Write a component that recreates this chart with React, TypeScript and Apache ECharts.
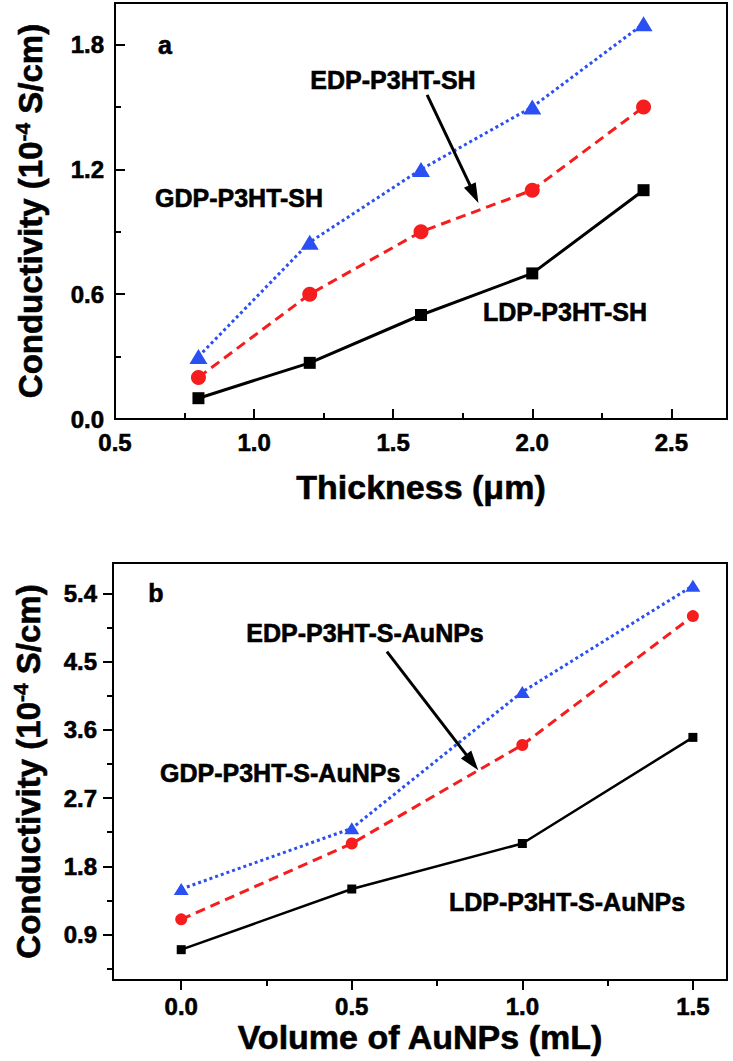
import React, { useEffect, useRef } from "react";
import * as echarts from "echarts";

// Panel a data
const thicknessA = [0.8, 1.2, 1.6, 2.0, 2.4];
const ldpA = [0.1, 0.27, 0.5, 0.7, 1.1];
const edpA = [0.2, 0.6, 0.9, 1.1, 1.5];
const gdpA = [0.3, 0.85, 1.2, 1.5, 1.9];

// Panel b data
const volumeB = [0, 0.5, 1.0, 1.5];
const ldpB = [0.7, 1.5, 2.1, 3.5];
const edpB = [1.1, 2.1, 3.4, 5.1];
const gdpB = [1.5, 2.3, 4.1, 5.5];

// Tick values
const xTicksA = [0.5, 1.0, 1.5, 2.0, 2.5];
const xMinorA = [0.75, 1.25, 1.75, 2.25];
const yTicksA = [0, 0.6, 1.2, 1.8];
const yMinorA = [0.3, 0.9, 1.5];
const xTicksB = [0, 0.5, 1.0, 1.5];
const xMinorB = [0.25, 0.75, 1.25];
const yTicksB = [0.9, 1.8, 2.7, 3.6, 4.5, 5.4];
const yMinorB = [0.45, 1.35, 2.25, 3.15, 4.05, 4.95];

const FONT = "'Liberation Sans', Arial, sans-serif";
const BLUE = "#2a4ff2";
const RED = "#f51d1d";

const pair = (xs: number[], ys: number[]) => xs.map((x, i) => [x, ys[i]]);

const labelStyle = (margin: number, values: number[]) => ({
  show: true,
  customValues: values,
  formatter: (v: number) => v.toFixed(1),
  fontSize: 24,
  fontWeight: "bold",
  fontFamily: FONT,
  color: "#000",
  textBorderColor: "#000",
  textBorderWidth: 0.6,
  margin,
});

const yName = "Conductivity (10{sup|-4} S/cm)";
const yNameStyle = {
  fontSize: 33,
  fontWeight: "bold",
  fontFamily: FONT,
  color: "#000",
  textBorderColor: "#000",
  textBorderWidth: 0.6,
  rich: {
    sup: {
      fontSize: 21,
      fontWeight: "bold",
      fontFamily: FONT,
      color: "#000",
      textBorderColor: "#000",
      textBorderWidth: 0.5,
      verticalAlign: "top",
      padding: [0, 0, 16, 0],
    },
  },
};
const xNameStyle = {
  fontSize: 34,
  fontWeight: "bold",
  fontFamily: FONT,
  color: "#000",
  textBorderColor: "#000",
  textBorderWidth: 0.6,
};

function mainAxis(o: any) {
  return {
    type: "value",
    gridIndex: o.grid,
    min: o.min,
    max: o.max,
    position: o.position,
    axisLine: { show: true, onZero: false, lineStyle: { color: "#000", width: 2 } },
    axisTick: {
      show: true,
      inside: o.inside,
      length: 10,
      customValues: o.ticks,
      lineStyle: { color: "#000", width: 2 },
    },
    axisLabel: labelStyle(o.margin, o.ticks),
    splitLine: { show: false },
    name: o.name,
    nameLocation: "middle",
    nameGap: o.nameGap,
    nameTextStyle: o.nameStyle,
  };
}

function minorAxis(o: any) {
  return {
    type: "value",
    gridIndex: o.grid,
    min: o.min,
    max: o.max,
    position: o.position,
    axisLine: { show: false, onZero: false },
    axisTick: {
      show: true,
      inside: o.inside,
      length: 6,
      customValues: o.ticks,
      lineStyle: { color: "#000", width: 2 },
    },
    axisLabel: { show: false },
    splitLine: { show: false },
  };
}

function lineSeries(name: string, data: number[][], xi: number, yi: number, kind: string, big: boolean, extra?: any) {
  const base: any = {
    name,
    type: "line",
    xAxisIndex: xi,
    yAxisIndex: yi,
    data,
    z: kind === "ldp" ? 4 : 3,
  };
  if (kind === "ldp") {
    base.symbol = "rect";
    base.symbolSize = big ? 12 : 9;
    base.itemStyle = { color: "#000" };
    base.lineStyle = { color: "#000", width: big ? 3 : 2.5, type: "solid" };
  } else if (kind === "edp") {
    base.symbol = "circle";
    base.symbolSize = big ? 15 : 12;
    base.itemStyle = { color: RED };
    base.lineStyle = { color: RED, width: 3, type: [10, 6] };
  } else {
    base.symbol = "triangle";
    base.symbolSize = big ? [18, 15] : [15, 12];
    base.itemStyle = { color: BLUE };
    base.lineStyle = { color: BLUE, width: 3, type: [3, 3] };
  }
  return Object.assign(base, extra || {});
}

function arrow(from: number[], to: number[]) {
  return {
    silent: true,
    symbol: ["none", "triangle"],
    symbolSize: [13, 20],
    label: { show: false },
    lineStyle: { color: "#000", width: 3, type: "solid" },
    itemStyle: { color: "#000" },
    data: [[{ coord: from }, { coord: to }]],
  };
}

const textEl = (text: string, x: number, y: number, align = "center") => ({
  type: "text",
  x,
  y,
  z: 10,
  style: {
    text,
    fontSize: 25,
    fontWeight: "bold",
    fontFamily: FONT,
    fill: "#000",
    stroke: "#000",
    lineWidth: 0.6,
    align,
    verticalAlign: "middle",
  },
});

export default function App() {
  const ref = useRef<HTMLDivElement>(null);
  useEffect(() => {
    if (!ref.current) return;
    const chart = echarts.init(ref.current, null, { renderer: "svg" });
    const option: any = {
      animation: false,
      backgroundColor: "#fff",
      grid: [
        { left: 115, top: 3, width: 612, height: 416, show: true, borderColor: "#000", borderWidth: 2, backgroundColor: "transparent" },
        { left: 113, top: 563, width: 614, height: 417, show: true, borderColor: "#000", borderWidth: 2, backgroundColor: "transparent" },
      ],
      xAxis: [
        mainAxis({ grid: 0, min: 0.5, max: 2.7, position: "bottom", inside: true, ticks: xTicksA, margin: 11, name: "Thickness (μm)", nameGap: 51, nameStyle: xNameStyle }),
        minorAxis({ grid: 0, min: 0.5, max: 2.7, position: "bottom", inside: true, ticks: xMinorA }),
        mainAxis({ grid: 1, min: -0.2, max: 1.6, position: "bottom", inside: false, ticks: xTicksB, margin: 14, name: "Volume of AuNPs (mL)", nameGap: 40, nameStyle: xNameStyle }),
        minorAxis({ grid: 1, min: -0.2, max: 1.6, position: "bottom", inside: false, ticks: xMinorB }),
      ],
      yAxis: [
        mainAxis({ grid: 0, min: 0, max: 2.0, position: "left", inside: true, ticks: yTicksA, margin: 11, name: yName, nameGap: 66, nameStyle: yNameStyle }),
        minorAxis({ grid: 0, min: 0, max: 2.0, position: "left", inside: true, ticks: yMinorA }),
        mainAxis({ grid: 1, min: 0.3, max: 5.8, position: "left", inside: false, ticks: yTicksB, margin: 16, name: yName, nameGap: 66, nameStyle: yNameStyle }),
        minorAxis({ grid: 1, min: 0.3, max: 5.8, position: "left", inside: false, ticks: yMinorB }),
      ],
      series: [
        lineSeries("LDP-P3HT-SH", pair(thicknessA, ldpA), 0, 0, "ldp", true, { markLine: arrow([1.622, 1.558], [1.791, 1.082]) }),
        lineSeries("EDP-P3HT-SH", pair(thicknessA, edpA), 0, 0, "edp", true),
        lineSeries("GDP-P3HT-SH", pair(thicknessA, gdpA), 0, 0, "gdp", true),
        lineSeries("LDP-P3HT-S-AuNPs", pair(volumeB, ldpB), 2, 2, "ldp", false, { markLine: arrow([0.603, 4.63], [0.853, 3.17]) }),
        lineSeries("EDP-P3HT-S-AuNPs", pair(volumeB, edpB), 2, 2, "edp", false),
        lineSeries("GDP-P3HT-S-AuNPs", pair(volumeB, gdpB), 2, 2, "gdp", false),
      ],
      graphic: [
        textEl("a", 165, 45),
        textEl("EDP-P3HT-SH", 393, 80),
        textEl("GDP-P3HT-SH", 155, 198, "left"),
        textEl("LDP-P3HT-SH", 565, 312),
        textEl("b", 156, 593),
        textEl("EDP-P3HT-S-AuNPs", 365, 633),
        textEl("GDP-P3HT-S-AuNPs", 160, 773, "left"),
        textEl("LDP-P3HT-S-AuNPs", 567, 902),
      ],
    };
    chart.setOption(option);
    return () => chart.dispose();
  }, []);
  return (
    <div
      ref={ref}
      style={{ position: "fixed", left: 0, top: 0, width: 733, height: 1061, background: "#fff" }}
    />
  );
}
